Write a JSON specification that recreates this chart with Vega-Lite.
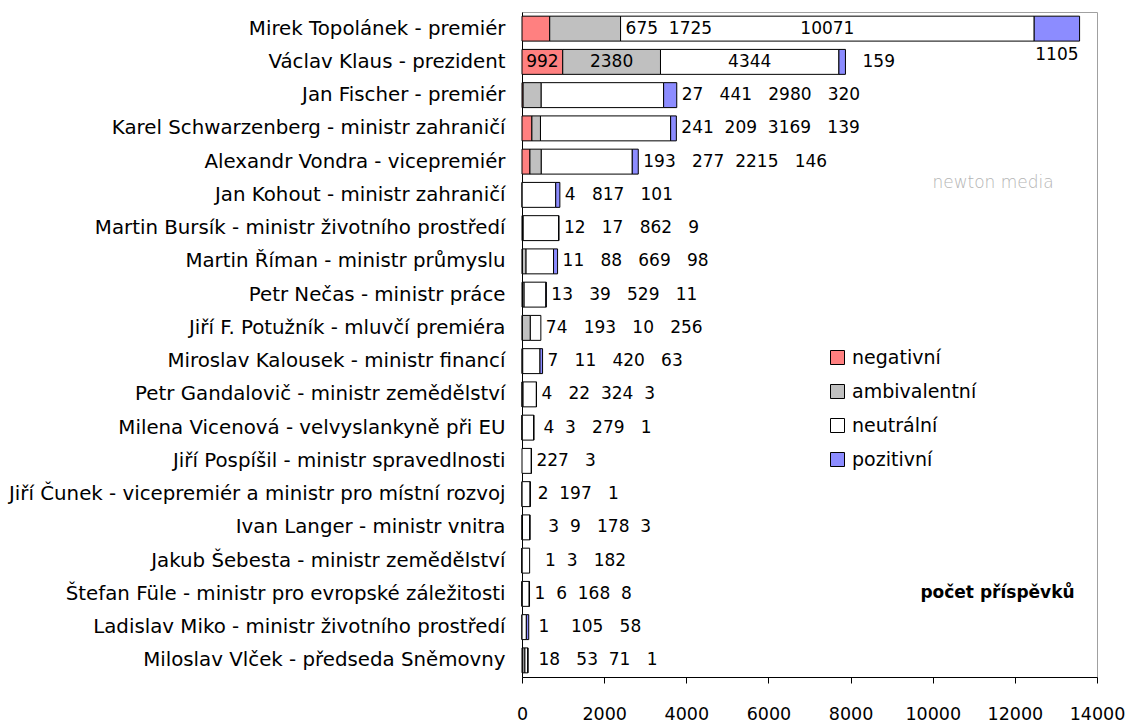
{
  "$schema": "https://vega.github.io/schema/vega-lite/v6.json",
  "width": 575,
  "height": 665,
  "autosize": {"type": "none"},
  "padding": {"left": 522, "top": 12, "right": 29, "bottom": 45},
  "background": "white",
  "config": {
    "view": {"stroke": "#a0a0a0", "strokeWidth": 1},
    "font": "DejaVu Sans",
    "text": {"font": "DejaVu Sans"}
  },
  "datasets": {
    "bars": [
      {"osoba": "Mirek Topolánek - premiér", "hodnoceni": "negativní", "pocet": 675},
      {"osoba": "Mirek Topolánek - premiér", "hodnoceni": "ambivalentní", "pocet": 1725},
      {"osoba": "Mirek Topolánek - premiér", "hodnoceni": "neutrální", "pocet": 10071},
      {"osoba": "Mirek Topolánek - premiér", "hodnoceni": "pozitivní", "pocet": 1105},
      {"osoba": "Václav Klaus - prezident", "hodnoceni": "negativní", "pocet": 992},
      {"osoba": "Václav Klaus - prezident", "hodnoceni": "ambivalentní", "pocet": 2380},
      {"osoba": "Václav Klaus - prezident", "hodnoceni": "neutrální", "pocet": 4344},
      {"osoba": "Václav Klaus - prezident", "hodnoceni": "pozitivní", "pocet": 159},
      {"osoba": "Jan Fischer - premiér", "hodnoceni": "negativní", "pocet": 27},
      {"osoba": "Jan Fischer - premiér", "hodnoceni": "ambivalentní", "pocet": 441},
      {"osoba": "Jan Fischer - premiér", "hodnoceni": "neutrální", "pocet": 2980},
      {"osoba": "Jan Fischer - premiér", "hodnoceni": "pozitivní", "pocet": 320},
      {"osoba": "Karel Schwarzenberg - ministr zahraničí", "hodnoceni": "negativní", "pocet": 241},
      {"osoba": "Karel Schwarzenberg - ministr zahraničí", "hodnoceni": "ambivalentní", "pocet": 209},
      {"osoba": "Karel Schwarzenberg - ministr zahraničí", "hodnoceni": "neutrální", "pocet": 3169},
      {"osoba": "Karel Schwarzenberg - ministr zahraničí", "hodnoceni": "pozitivní", "pocet": 139},
      {"osoba": "Alexandr Vondra - vicepremiér", "hodnoceni": "negativní", "pocet": 193},
      {"osoba": "Alexandr Vondra - vicepremiér", "hodnoceni": "ambivalentní", "pocet": 277},
      {"osoba": "Alexandr Vondra - vicepremiér", "hodnoceni": "neutrální", "pocet": 2215},
      {"osoba": "Alexandr Vondra - vicepremiér", "hodnoceni": "pozitivní", "pocet": 146},
      {"osoba": "Jan Kohout - ministr zahraničí", "hodnoceni": "ambivalentní", "pocet": 4},
      {"osoba": "Jan Kohout - ministr zahraničí", "hodnoceni": "neutrální", "pocet": 817},
      {"osoba": "Jan Kohout - ministr zahraničí", "hodnoceni": "pozitivní", "pocet": 101},
      {"osoba": "Martin Bursík - ministr životního prostředí", "hodnoceni": "negativní", "pocet": 12},
      {"osoba": "Martin Bursík - ministr životního prostředí", "hodnoceni": "ambivalentní", "pocet": 17},
      {"osoba": "Martin Bursík - ministr životního prostředí", "hodnoceni": "neutrální", "pocet": 862},
      {"osoba": "Martin Bursík - ministr životního prostředí", "hodnoceni": "pozitivní", "pocet": 9},
      {"osoba": "Martin Říman - ministr průmyslu", "hodnoceni": "negativní", "pocet": 11},
      {"osoba": "Martin Říman - ministr průmyslu", "hodnoceni": "ambivalentní", "pocet": 88},
      {"osoba": "Martin Říman - ministr průmyslu", "hodnoceni": "neutrální", "pocet": 669},
      {"osoba": "Martin Říman - ministr průmyslu", "hodnoceni": "pozitivní", "pocet": 98},
      {"osoba": "Petr Nečas - ministr práce", "hodnoceni": "negativní", "pocet": 13},
      {"osoba": "Petr Nečas - ministr práce", "hodnoceni": "ambivalentní", "pocet": 39},
      {"osoba": "Petr Nečas - ministr práce", "hodnoceni": "neutrální", "pocet": 529},
      {"osoba": "Petr Nečas - ministr práce", "hodnoceni": "pozitivní", "pocet": 11},
      {"osoba": "Jiří F. Potužník - mluvčí premiéra", "hodnoceni": "negativní", "pocet": 10},
      {"osoba": "Jiří F. Potužník - mluvčí premiéra", "hodnoceni": "ambivalentní", "pocet": 193},
      {"osoba": "Jiří F. Potužník - mluvčí premiéra", "hodnoceni": "neutrální", "pocet": 256},
      {"osoba": "Miroslav Kalousek - ministr financí", "hodnoceni": "negativní", "pocet": 7},
      {"osoba": "Miroslav Kalousek - ministr financí", "hodnoceni": "ambivalentní", "pocet": 11},
      {"osoba": "Miroslav Kalousek - ministr financí", "hodnoceni": "neutrální", "pocet": 420},
      {"osoba": "Miroslav Kalousek - ministr financí", "hodnoceni": "pozitivní", "pocet": 63},
      {"osoba": "Petr Gandalovič - ministr zemědělství", "hodnoceni": "negativní", "pocet": 4},
      {"osoba": "Petr Gandalovič - ministr zemědělství", "hodnoceni": "ambivalentní", "pocet": 22},
      {"osoba": "Petr Gandalovič - ministr zemědělství", "hodnoceni": "neutrální", "pocet": 324},
      {"osoba": "Petr Gandalovič - ministr zemědělství", "hodnoceni": "pozitivní", "pocet": 3},
      {"osoba": "Milena Vicenová - velvyslankyně při EU", "hodnoceni": "negativní", "pocet": 4},
      {"osoba": "Milena Vicenová - velvyslankyně při EU", "hodnoceni": "ambivalentní", "pocet": 3},
      {"osoba": "Milena Vicenová - velvyslankyně při EU", "hodnoceni": "neutrální", "pocet": 279},
      {"osoba": "Milena Vicenová - velvyslankyně při EU", "hodnoceni": "pozitivní", "pocet": 1},
      {"osoba": "Jiří Pospíšil - ministr spravedlnosti", "hodnoceni": "neutrální", "pocet": 227},
      {"osoba": "Jiří Pospíšil - ministr spravedlnosti", "hodnoceni": "pozitivní", "pocet": 3},
      {"osoba": "Jiří Čunek - vicepremiér a ministr pro místní rozvoj", "hodnoceni": "ambivalentní", "pocet": 2},
      {"osoba": "Jiří Čunek - vicepremiér a ministr pro místní rozvoj", "hodnoceni": "neutrální", "pocet": 197},
      {"osoba": "Jiří Čunek - vicepremiér a ministr pro místní rozvoj", "hodnoceni": "pozitivní", "pocet": 1},
      {"osoba": "Ivan Langer - ministr vnitra", "hodnoceni": "negativní", "pocet": 3},
      {"osoba": "Ivan Langer - ministr vnitra", "hodnoceni": "ambivalentní", "pocet": 9},
      {"osoba": "Ivan Langer - ministr vnitra", "hodnoceni": "neutrální", "pocet": 178},
      {"osoba": "Ivan Langer - ministr vnitra", "hodnoceni": "pozitivní", "pocet": 3},
      {"osoba": "Jakub Šebesta - ministr zemědělství", "hodnoceni": "negativní", "pocet": 1},
      {"osoba": "Jakub Šebesta - ministr zemědělství", "hodnoceni": "ambivalentní", "pocet": 3},
      {"osoba": "Jakub Šebesta - ministr zemědělství", "hodnoceni": "neutrální", "pocet": 182},
      {"osoba": "Štefan Füle - ministr pro evropské záležitosti", "hodnoceni": "negativní", "pocet": 1},
      {"osoba": "Štefan Füle - ministr pro evropské záležitosti", "hodnoceni": "ambivalentní", "pocet": 6},
      {"osoba": "Štefan Füle - ministr pro evropské záležitosti", "hodnoceni": "neutrální", "pocet": 168},
      {"osoba": "Štefan Füle - ministr pro evropské záležitosti", "hodnoceni": "pozitivní", "pocet": 8},
      {"osoba": "Ladislav Miko - ministr životního prostředí", "hodnoceni": "negativní", "pocet": 1},
      {"osoba": "Ladislav Miko - ministr životního prostředí", "hodnoceni": "neutrální", "pocet": 105},
      {"osoba": "Ladislav Miko - ministr životního prostředí", "hodnoceni": "pozitivní", "pocet": 58},
      {"osoba": "Miloslav Vlček - předseda Sněmovny", "hodnoceni": "negativní", "pocet": 18},
      {"osoba": "Miloslav Vlček - předseda Sněmovny", "hodnoceni": "ambivalentní", "pocet": 53},
      {"osoba": "Miloslav Vlček - předseda Sněmovny", "hodnoceni": "neutrální", "pocet": 71},
      {"osoba": "Miloslav Vlček - předseda Sněmovny", "hodnoceni": "pozitivní", "pocet": 1}
    ],
    "labels": [
      {"osoba": "Mirek Topolánek - premiér", "text": "675\u00a0\u00a01725", "at": 2400, "kind": "after"},
      {"osoba": "Mirek Topolánek - premiér", "text": "10071", "at": 7435, "kind": "center"},
      {"osoba": "Václav Klaus - prezident", "text": "992", "at": 496, "kind": "center"},
      {"osoba": "Václav Klaus - prezident", "text": "2380", "at": 2182, "kind": "center"},
      {"osoba": "Václav Klaus - prezident", "text": "4344", "at": 5544, "kind": "center"},
      {"osoba": "Václav Klaus - prezident", "text": "1105", "at": 13023, "kind": "centerup"},
      {"osoba": "Václav Klaus - prezident", "text": "159", "at": 8170, "kind": "after"},
      {"osoba": "Jan Fischer - premiér", "text": "27\u00a0\u00a0\u00a0441\u00a0\u00a0\u00a02980\u00a0\u00a0\u00a0320", "at": 3768, "kind": "after"},
      {"osoba": "Karel Schwarzenberg - ministr zahraničí", "text": "241\u00a0\u00a0209\u00a0\u00a03169\u00a0\u00a0\u00a0139", "at": 3758, "kind": "after"},
      {"osoba": "Alexandr Vondra - vicepremiér", "text": "193\u00a0\u00a0\u00a0277\u00a0\u00a02215\u00a0\u00a0\u00a0146", "at": 2831, "kind": "after"},
      {"osoba": "Jan Kohout - ministr zahraničí", "text": "4\u00a0\u00a0\u00a0817\u00a0\u00a0\u00a0101", "at": 922, "kind": "after"},
      {"osoba": "Jan Kohout - ministr zahraničí", "text": "newton media", "at": 11470, "kind": "wm"},
      {"osoba": "Martin Bursík - ministr životního prostředí", "text": "12\u00a0\u00a0\u00a017\u00a0\u00a0\u00a0862\u00a0\u00a0\u00a09", "at": 900, "kind": "after"},
      {"osoba": "Martin Říman - ministr průmyslu", "text": "11\u00a0\u00a0\u00a088\u00a0\u00a0\u00a0669\u00a0\u00a0\u00a098", "at": 866, "kind": "after"},
      {"osoba": "Petr Nečas - ministr práce", "text": "13\u00a0\u00a0\u00a039\u00a0\u00a0\u00a0529\u00a0\u00a0\u00a011", "at": 592, "kind": "after"},
      {"osoba": "Jiří F. Potužník - mluvčí premiéra", "text": "74\u00a0\u00a0\u00a0193\u00a0\u00a0\u00a010\u00a0\u00a0\u00a0256", "at": 459, "kind": "after"},
      {"osoba": "Miroslav Kalousek - ministr financí", "text": "7\u00a0\u00a0\u00a011\u00a0\u00a0\u00a0420\u00a0\u00a0\u00a063", "at": 501, "kind": "after"},
      {"osoba": "Petr Gandalovič - ministr zemědělství", "text": "4\u00a0\u00a0\u00a022\u00a0\u00a0324\u00a0\u00a03", "at": 353, "kind": "after"},
      {"osoba": "Milena Vicenová - velvyslankyně při EU", "text": "4\u00a0\u00a03\u00a0\u00a0\u00a0279\u00a0\u00a0\u00a01", "at": 400, "kind": "after"},
      {"osoba": "Jiří Pospíšil - ministr spravedlnosti", "text": "227\u00a0\u00a0\u00a03", "at": 230, "kind": "after"},
      {"osoba": "Jiří Čunek - vicepremiér a ministr pro místní rozvoj", "text": "2\u00a0\u00a0197\u00a0\u00a0\u00a01", "at": 260, "kind": "after"},
      {"osoba": "Ivan Langer - ministr vnitra", "text": "3\u00a0\u00a09\u00a0\u00a0\u00a0178\u00a0\u00a03", "at": 520, "kind": "after"},
      {"osoba": "Jakub Šebesta - ministr zemědělství", "text": "1\u00a0\u00a03\u00a0\u00a0\u00a0182", "at": 440, "kind": "after"},
      {"osoba": "Štefan Füle - ministr pro evropské záležitosti", "text": "1\u00a0\u00a06\u00a0\u00a0168\u00a0\u00a08", "at": 183, "kind": "after"},
      {"osoba": "Ladislav Miko - ministr životního prostředí", "text": "1\u00a0\u00a0\u00a0\u00a0105\u00a0\u00a0\u00a058", "at": 280, "kind": "after"},
      {"osoba": "Miloslav Vlček - předseda Sněmovny", "text": "18\u00a0\u00a0\u00a053\u00a0\u00a071\u00a0\u00a0\u00a01", "at": 280, "kind": "after"}
    ]
  },
  "layer": [
    {
      "data": {"name": "bars"},
      "transform": [
        {"calculate": "indexof(['negativní', 'ambivalentní', 'neutrální', 'pozitivní'], datum.hodnoceni)", "as": "poradi"}
      ],
      "mark": {"type": "bar", "stroke": "black", "strokeWidth": 1},
      "encoding": {
        "y": {
          "field": "osoba",
          "type": "nominal",
          "sort": null,
          "scale": {
            "domain": [
              "Mirek Topolánek - premiér",
              "Václav Klaus - prezident",
              "Jan Fischer - premiér",
              "Karel Schwarzenberg - ministr zahraničí",
              "Alexandr Vondra - vicepremiér",
              "Jan Kohout - ministr zahraničí",
              "Martin Bursík - ministr životního prostředí",
              "Martin Říman - ministr průmyslu",
              "Petr Nečas - ministr práce",
              "Jiří F. Potužník - mluvčí premiéra",
              "Miroslav Kalousek - ministr financí",
              "Petr Gandalovič - ministr zemědělství",
              "Milena Vicenová - velvyslankyně při EU",
              "Jiří Pospíšil - ministr spravedlnosti",
              "Jiří Čunek - vicepremiér a ministr pro místní rozvoj",
              "Ivan Langer - ministr vnitra",
              "Jakub Šebesta - ministr zemědělství",
              "Štefan Füle - ministr pro evropské záležitosti",
              "Ladislav Miko - ministr životního prostředí",
              "Miloslav Vlček - předseda Sněmovny"
            ],
            "paddingInner": 0.25,
            "paddingOuter": 0.125
          },
          "axis": {
            "title": null,
            "domainColor": "black",
            "domainWidth": 1,
            "ticks": false,
            "tickSize": 0,
            "labelPadding": 17,
            "labelFontSize": 19.8,
            "labelFont": "DejaVu Sans",
            "labelColor": "black",
            "labelLimit": 700
          }
        },
        "x": {
          "field": "pocet",
          "type": "quantitative",
          "stack": "zero",
          "scale": {"domain": [0, 14000], "nice": false},
          "axis": {
            "values": [0, 2000, 4000, 6000, 8000, 10000, 12000, 14000],
            "format": "d",
            "grid": false,
            "domainColor": "black",
            "tickColor": "black",
            "tickSize": 6,
            "labelPadding": 22,
            "labelFontSize": 17.5,
            "labelFont": "DejaVu Sans",
            "labelColor": "black",
            "labelFlush": false,
            "title": "počet příspěvků",
            "titleFont": "DejaVu Sans",
            "titleFontSize": 17,
            "titleFontWeight": "bold",
            "titleColor": "black",
            "titleX": 475,
            "titleY": -85,
            "titleAlign": "center",
            "titleBaseline": "middle"
          }
        },
        "order": {"field": "poradi", "type": "quantitative", "sort": "ascending"},
        "color": {
          "field": "hodnoceni",
          "type": "nominal",
          "sort": ["negativní", "ambivalentní", "neutrální", "pozitivní"],
          "scale": {
            "domain": ["negativní", "ambivalentní", "neutrální", "pozitivní"],
            "range": ["#FF8080", "#C0C0C0", "#FFFFFF", "#8C8CFF"]
          },
          "legend": {
            "orient": "none",
            "legendX": 306,
            "legendY": 336,
            "title": null,
            "padding": 0,
            "symbolType": "square",
            "symbolSize": 196,
            "symbolStrokeColor": "black",
            "symbolStrokeWidth": 1,
            "symbolOpacity": 1,
            "labelFontSize": 19,
            "labelFont": "DejaVu Sans",
            "labelColor": "black",
            "labelOffset": 5,
            "rowPadding": 14
          }
        }
      }
    },
    {
      "data": {"name": "labels"},
      "transform": [{"filter": "datum.kind === 'after'"}],
      "mark": {"type": "text", "align": "left", "baseline": "middle", "dx": 5, "fontSize": 17, "font": "DejaVu Sans", "color": "black"},
      "encoding": {
        "y": {"field": "osoba", "type": "nominal", "sort": null},
        "x": {"field": "at", "type": "quantitative"},
        "text": {"field": "text", "type": "nominal"}
      }
    },
    {
      "data": {"name": "labels"},
      "transform": [{"filter": "datum.kind === 'center'"}],
      "mark": {"type": "text", "align": "center", "baseline": "middle", "fontSize": 17, "font": "DejaVu Sans", "color": "black"},
      "encoding": {
        "y": {"field": "osoba", "type": "nominal", "sort": null},
        "x": {"field": "at", "type": "quantitative"},
        "text": {"field": "text", "type": "nominal"}
      }
    },
    {
      "data": {"name": "labels"},
      "transform": [{"filter": "datum.kind === 'centerup'"}],
      "mark": {"type": "text", "align": "center", "baseline": "middle", "dy": -7, "fontSize": 17, "font": "DejaVu Sans", "color": "black"},
      "encoding": {
        "y": {"field": "osoba", "type": "nominal", "sort": null},
        "x": {"field": "at", "type": "quantitative"},
        "text": {"field": "text", "type": "nominal"}
      }
    },
    {
      "data": {"name": "labels"},
      "transform": [{"filter": "datum.kind === 'wm'"}],
      "mark": {"type": "text", "align": "center", "baseline": "middle", "dy": -12, "fontSize": 17, "font": "DejaVu Sans", "fontWeight": 200, "color": "#b4b4b4"},
      "encoding": {
        "y": {"field": "osoba", "type": "nominal", "sort": null},
        "x": {"field": "at", "type": "quantitative"},
        "text": {"field": "text", "type": "nominal"}
      }
    }
  ]
}
